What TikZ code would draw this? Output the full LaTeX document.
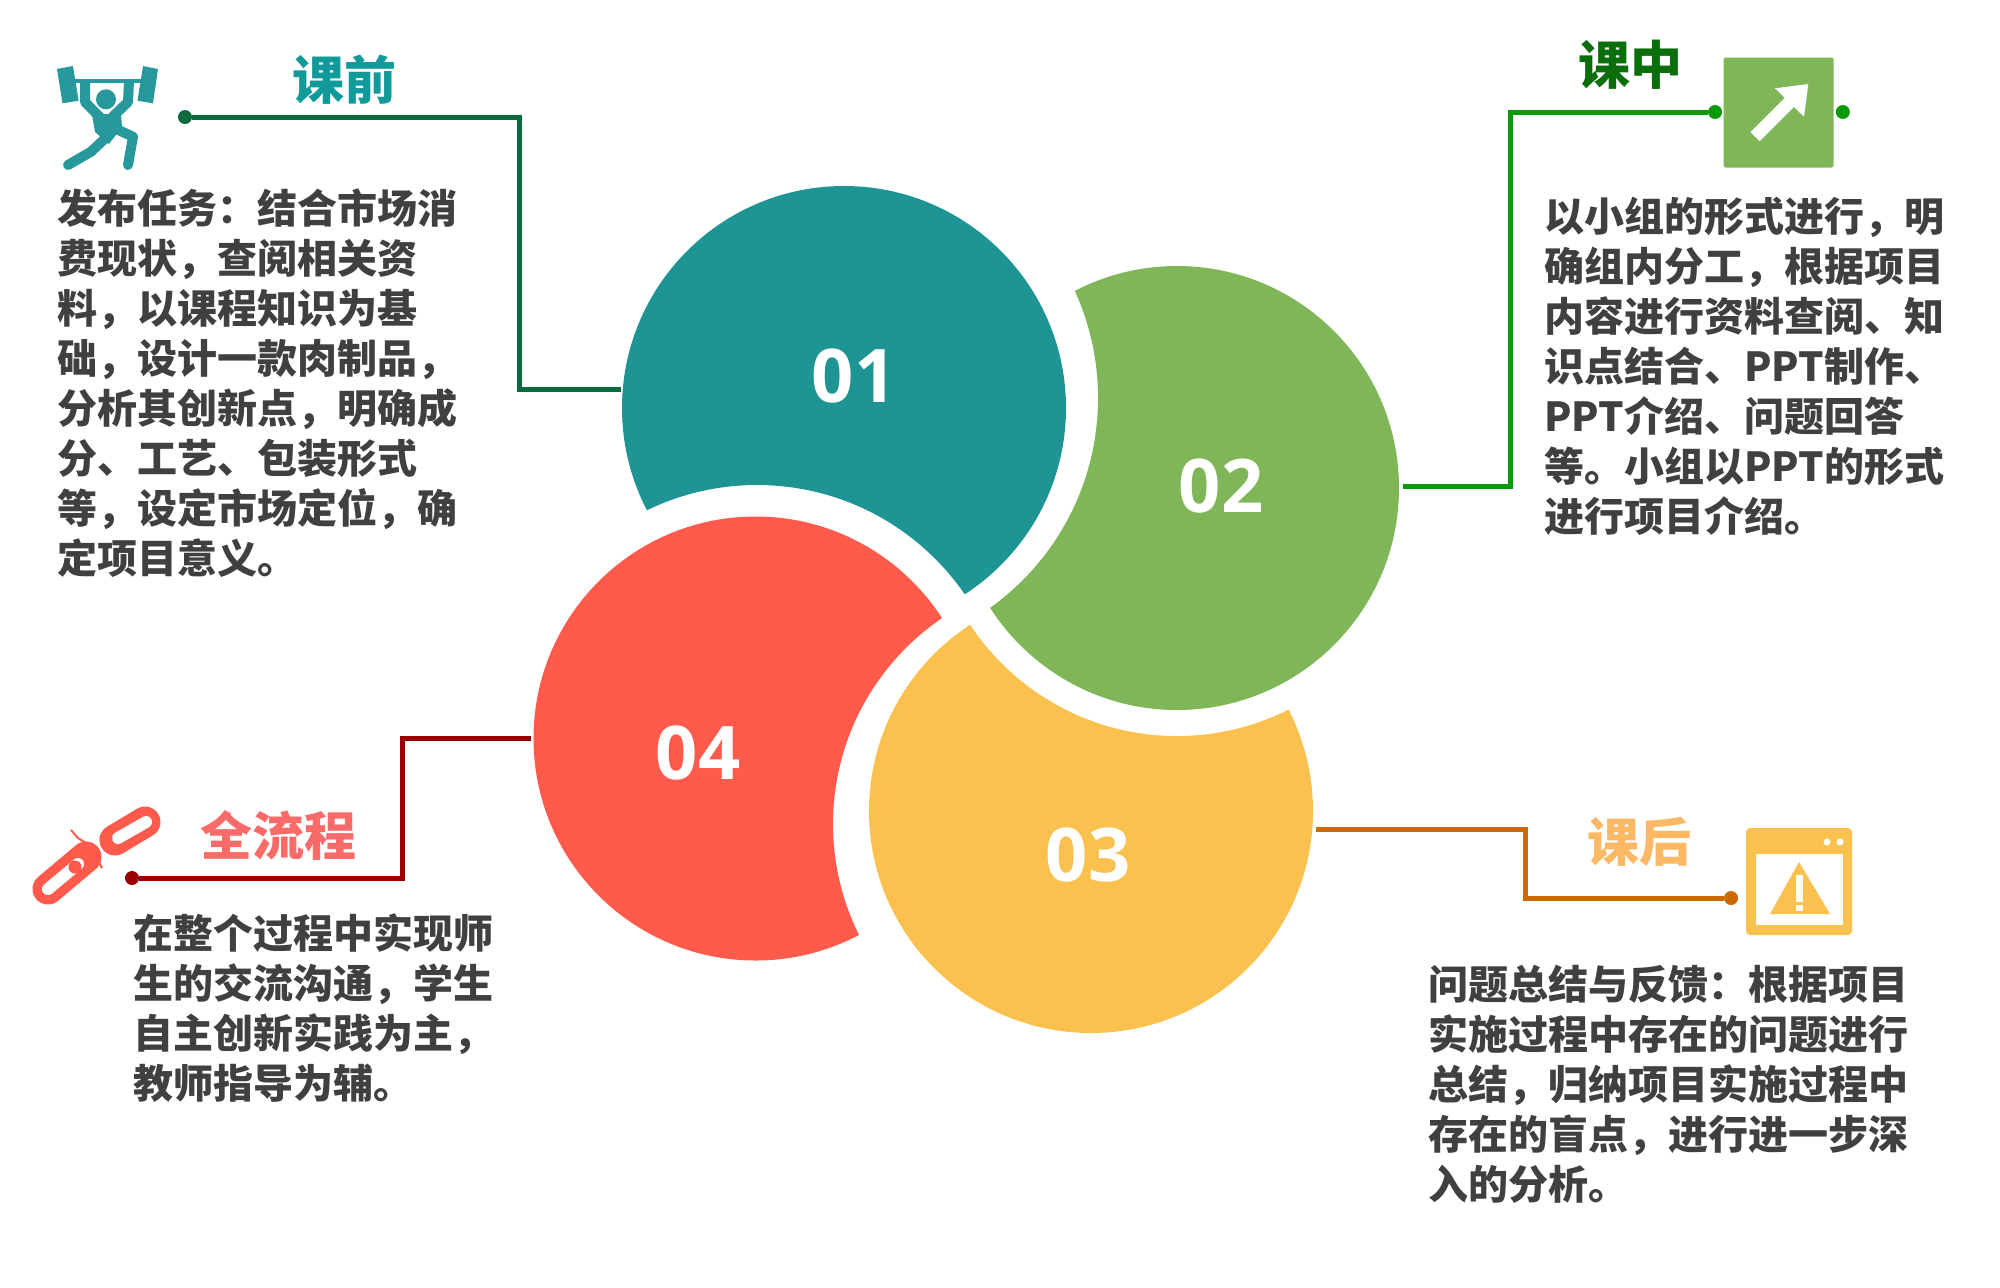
\documentclass[tikz,border=0pt]{standalone}
\usepackage{fontspec}
\usepackage{xcolor}
\setmainfont{Noto Sans CJK SC}
\newfontfamily\digitfont{Open Sans}
\usetikzlibrary{positioning}
\definecolor{petalteal}{HTML}{1E9494}
\definecolor{petalgreen}{HTML}{7FB658}
\definecolor{petalyellow}{HTML}{FBC14F}
\definecolor{petalred}{HTML}{FF5A4B}
\definecolor{lineteal}{HTML}{0B6B3C}
\definecolor{linegreen}{HTML}{0A9A0A}
\definecolor{lineorange}{HTML}{CC6A00}
\definecolor{linered}{HTML}{990000}
\definecolor{iconteal}{HTML}{27989B}
\definecolor{headteal}{HTML}{12999A}
\definecolor{headgreen}{HTML}{0A6E0A}
\definecolor{headyellow}{HTML}{FBB865}
\definecolor{headred}{HTML}{F96B68}
\definecolor{textgray}{HTML}{404040}

\begin{document}
\begin{tikzpicture}[
        x=0.5pt, y=-0.5pt,
        link/.style={line width=2.5pt},
        dot/.style={circle, inner sep=0pt, minimum size=7pt},
        number/.style={text=white, font=\digitfont\bfseries\fontsize{37}{37}\selectfont},
        heading/.style={inner sep=0pt, font=\bfseries\fontsize{26}{30}\selectfont},
        bodytext/.style={anchor=north west, align=left, inner sep=0pt, text=textgray, font=\bfseries\fontsize{20}{25}\selectfont}
    ]
        \useasboundingbox (0,0) rectangle (2000,1287);

        % Four petals, each one cut by the next
        \begin{scope}[even odd rule]
            \clip (0,0) rectangle (2000,1287) (757,737) circle (252);
            \fill[petalteal] (844,408) circle (222);
        \end{scope}
        \begin{scope}[even odd rule]
            \clip (0,0) rectangle (2000,1287) (840,398) circle (258);
            \fill[petalgreen] (1177,488) circle (222);
        \end{scope}
        \begin{scope}[even odd rule]
            \clip (0,0) rectangle (2000,1287) (1177,488) circle (248);
            \fill[petalyellow] (1091,811) circle (222);
        \end{scope}
        \begin{scope}[even odd rule]
            \clip (0,0) rectangle (2000,1287) (1082,824) circle (249);
            \fill[petalred] (755.5,738.5) circle (222);
        \end{scope}

        \node[number] (num01) at (854,376) {01};
        \node[number] (num02) at (1221,486) {02};
        \node[number] (num03) at (1088,855) {03};
        \node[number] (num04) at (698,753) {04};

        % Connector ends
        \node[dot, fill=lineteal] (dot01) at (185,117) {};
        \node[dot, fill=linegreen] (dot02) at (1715,112) {};
        \node[dot, fill=linegreen, right=56.5pt of dot02] (dot02b) {};
        \node[dot, fill=lineorange] (dot03) at (1731,898) {};
        \node[dot, fill=linered] (dot04) at (132,878) {};

        \coordinate (turn01) at (519,389);
        \coordinate (edge01) at (621,389);
        \coordinate (turn02) at (1510,112);
        \coordinate (edge02) at (1403,486);
        \coordinate (turn03) at (1525,898);
        \coordinate (edge03) at (1316,829);
        \coordinate (turn04) at (402,738);
        \coordinate (edge04) at (531,738);

        \draw[link, lineteal] (dot01) -| (turn01) -- (edge01);
        \draw[link, linegreen] (edge02) -| (turn02) -- (dot02);
        \draw[link, lineorange] (edge03) -| (turn03) -- (dot03);
        \draw[link, linered] (dot04) -| (turn04) -- (edge04);

        % Headings
        \node[heading, text=headteal] (head01) at (344,80) {课前};
        \node[heading, text=headgreen] (head02) at (1630,65) {课中};
        \node[heading, text=headyellow] (head03) at (1639,842) {课后};
        \node[heading, text=headred] (head04) at (278,835) {全流程};

        % Body texts
        \node[bodytext] (body01) at (57,188) {发布任务：结合市场消\\费现状，查阅相关资\\料，以课程知识为基\\础，设计一款肉制品，\\分析其创新点，明确成\\分、工艺、包装形式\\等，设定市场定位，确\\定项目意义。};
        \node[bodytext] (body02) at (1544,197) {以小组的形式进行，明\\确组内分工，根据项目\\内容进行资料查阅、知\\识点结合、PPT制作、\\PPT介绍、问题回答\\等。小组以PPT的形式\\进行项目介绍。};
        \node[bodytext] (body03) at (1428,965) {问题总结与反馈：根据项目\\实施过程中存在的问题进行\\总结，归纳项目实施过程中\\存在的盲点，进行进一步深\\入的分析。};
        \node[bodytext] (body04) at (133,913) {在整个过程中实现师\\生的交流沟通，学生\\自主创新实践为主，\\教师指导为辅。};

        % Weightlifter icon
        \fill[iconteal] (57,69) -- (73,66) -- (78.6,100.7) -- (62.5,103.3) -- cycle;
        \fill[iconteal] (143,66) -- (158,69) -- (153,103.3) -- (137.5,100.7) -- cycle;
        \draw[iconteal, line width=2pt] (73,81) -- (143,81);
        \draw[iconteal, line width=5pt, line join=round] (85,81.7) -- (85,102) -- (101,118.3);
        \draw[iconteal, line width=5pt, line join=round] (129,81.7) -- (128,102) -- (111,118.3);
        \fill[iconteal] (106,99.3) circle (10);
        \fill[iconteal] (92,114) -- (121,114) -- (122,127) -- (109,144) -- (95,132) -- cycle;
        \draw[iconteal, line width=5pt, line cap=round, line join=round] (107,136.7) -- (91,151.7) -- (68,165);
        \draw[iconteal, line width=5pt, line cap=round, line join=round] (114,128) -- (133,136.7) -- (128,165);

        % Arrow icon
        \node[fill=petalgreen, rounded corners=1pt, inner sep=0pt, minimum size=55pt] (icon02) at (1778.5,112.5) {};
        \draw[white, line width=6.5pt] (1755,136.7) -- (1790,101.7);
        \fill[white] (1808.3,84) -- (1775,88.3) -- (1804,116.7) -- cycle;

        % Warning window icon
        \node[fill=petalyellow, rounded corners=2pt, inner sep=0pt, minimum width=53pt, minimum height=53.5pt] (icon03) at (1799,881.5) {};
        \fill[white] (1756,854) rectangle (1843,925);
        \fill[white] (1827,842) circle (3.5) (1840,842) circle (3.5);
        \fill[petalyellow] (1799,862) -- (1830,914) -- (1770,914) -- cycle;
        \fill[white] (1795.5,875) rectangle (1802.5,902);
        \fill[white] (1795.5,905) rectangle (1802.5,911);

        % Broken chain icon
        \draw[petalred, line width=15.5pt, line cap=round] (115,840) -- (145,822);
        \draw[petalred, line width=15.5pt, line cap=round] (48,889) -- (86,857);
        \draw[white, line width=6pt, line cap=round] (118,838) -- (146,822);
        \draw[white, line width=6pt, line cap=round] (48,889) -- (78,864);
        \fill[petalred] (106,838) circle (6.5) (75,867) circle (6.5);
        \draw[petalred, line width=1pt] (71,830) -- (78,838) -- (86,843);
        \draw[petalred, line width=1pt] (102,868) -- (98,860) -- (96,855);
\end{tikzpicture}
\end{document}
